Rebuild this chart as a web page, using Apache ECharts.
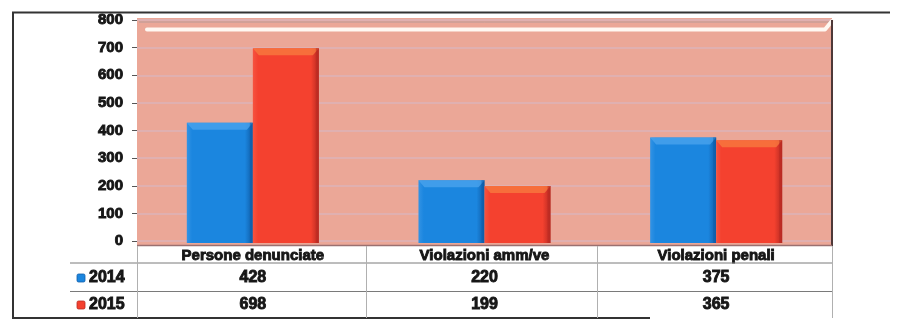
<!DOCTYPE html>
<html>
<head>
<meta charset="utf-8">
<script src="https://cdn.jsdelivr.net/npm/echarts@6/dist/echarts.min.js"></script>
<style>
  html, body { margin: 0; padding: 0; background: #ffffff; }
  #chart { width: 900px; height: 325px; }
</style>
</head>
<body>
<div id="chart"></div>
<script>
// Categories and yearly values
const categories = ['Persone denunciate', 'Violazioni amm/ve', 'Violazioni penali'];
const years = ['2014', '2015'];
const values2014 = [428, 220, 375];
const values2015 = [698, 199, 365];
const yMin = 0, yMax = 800, yStep = 100;

const FONT = '"Liberation Sans", Arial, sans-serif';
const INK = '#161616';

const palette = [
  { body: '#1b86df', light: '#3393e4', dark: '#0f5da8', bevel: '#4aa3ec' },
  { body: '#f4412f', light: '#f65340', dark: '#b82a22', bevel: '#f7793f' }
];

// Grid box (pixels)
const G = { left: 137, right: 832, top: 20, zero: 241 };

const chart = echarts.init(document.getElementById('chart'), null, { renderer: 'canvas' });

// Beveled column drawn from data through the axis scales
function makeRender(seriesIdx) {
  return function (params, api) {
    const cat = api.value(0);
    const val = api.value(1);
    const top = api.coord([cat, val]);
    const base = api.coord([cat, 0]);
    const band = api.size([1, 0])[0];
    const w = band * 0.285;
    const x0 = seriesIdx === 0 ? top[0] - w : top[0];
    const x1 = x0 + w;
    const y0 = top[1];
    const y1 = base[1] + 2;
    const c = palette[seriesIdx];
    const lip = 7, inset = 6;
    return {
      type: 'group',
      children: [
        {
          type: 'rect',
          shape: { x: x0, y: y0, width: w, height: y1 - y0 },
          style: {
            fill: new echarts.graphic.LinearGradient(0, 0, 1, 0, [
              { offset: 0, color: c.light },
              { offset: 0.08, color: c.body },
              { offset: 0.88, color: c.body },
              { offset: 1, color: c.dark }
            ])
          }
        },
        {
          type: 'polygon',
          shape: { points: [[x0, y0], [x1, y0], [x1 - inset, y0 + lip], [x0 + inset, y0 + lip]] },
          style: { fill: c.bevel, opacity: 0.8 }
        },
        {
          type: 'rect',
          shape: { x: x1 - 3, y: y0, width: 3, height: y1 - y0 },
          style: { fill: c.dark, opacity: 0.55 }
        }
      ]
    };
  };
}

const boldText = {
  fontFamily: FONT,
  fontSize: 15,
  fontWeight: 'bold',
  color: INK,
  textBorderColor: INK,
  textBorderWidth: 0.9
};

const option = {
  animation: false,
  grid: { left: G.left, right: 900 - G.right, top: G.top, bottom: 325 - G.zero, containLabel: false },
  xAxis: {
    type: 'category',
    data: categories,
    axisLine: { show: false },
    axisTick: { show: false },
    axisLabel: Object.assign({ margin: 7 }, boldText)
  },
  yAxis: {
    type: 'value',
    min: yMin,
    max: yMax,
    interval: yStep,
    axisLine: { show: false },
    axisTick: { show: true, length: 5, lineStyle: { color: '#555', width: 1 } },
    axisLabel: Object.assign({ margin: 14 }, boldText),
    splitLine: { show: true, lineStyle: { color: '#dcb3b8', width: 1.5 } }
  },
  series: [
    {
      name: years[0],
      type: 'custom',
      renderItem: makeRender(0),
      encode: { x: 0, y: 1 },
      data: values2014.map((v, i) => [i, v]),
      z: 5
    },
    {
      name: years[1],
      type: 'custom',
      renderItem: makeRender(1),
      encode: { x: 0, y: 1 },
      data: values2015.map((v, i) => [i, v]),
      z: 5
    }
  ]
};

chart.setOption(option);

// Plot wall, frame and data table
const g = [];
// pink back wall
g.push({
  type: 'rect', z: -10,
  shape: { x: G.left, y: 18, width: G.right - G.left, height: 227 },
  style: { fill: '#eba797' }
});
g.push({ type: 'line', z: 1, shape: { x1: G.left + 2, y1: 22, x2: G.right - 2, y2: 22 }, style: { stroke: '#b79a98', lineWidth: 1 } });
// white highlight along the top edge
g.push({
  type: 'polyline', z: 1,
  shape: { points: [[G.left + 10, 29.5], [G.right - 7, 29.5], [G.right, 21]] },
  style: { stroke: '#fff8f2', lineWidth: 4, lineCap: 'round', lineJoin: 'round', fill: null }
});
// right and bottom shaded edges of the wall
g.push({ type: 'line', z: 1, shape: { x1: G.right, y1: 20, x2: G.right, y2: 246 }, style: { stroke: '#4e3838', lineWidth: 2 } });
g.push({ type: 'line', z: 1, shape: { x1: G.left, y1: 245.5, x2: G.right, y2: 245.5 }, style: { stroke: '#9a7070', lineWidth: 1.5 } });

// outer frame
g.push({ type: 'polyline', z: 1, shape: { points: [[890, 12.5], [13, 12.5], [13, 318], [650, 318]] }, style: { stroke: '#333', lineWidth: 2, fill: null } });

// table grid
const rowLines = [263, 291.5];
rowLines.forEach(y => g.push({ type: 'line', z: 1, shape: { x1: 70, y1: y, x2: G.right, y2: y }, style: { stroke: '#7a7a7a', lineWidth: 1 } }));
const band = (G.right - G.left) / categories.length;
for (let k = 0; k <= categories.length; k++) {
  const x = Math.round(G.left + k * band) - (k === 1 || k === 2 ? 3 : 0) + 0.5;
  g.push({ type: 'line', z: 1, shape: { x1: x, y1: 246, x2: x, y2: 318 }, style: { stroke: '#b0b0b0', lineWidth: 1 } });
}

// table rows: legend keys and values
const rows = [
  { label: years[0], vals: values2014, y: 278, c: palette[0] },
  { label: years[1], vals: values2015, y: 305, c: palette[1] }
];
rows.forEach(r => {
  g.push({
    type: 'rect', z: 2,
    shape: { x: 77, y: r.y - 4, width: 8, height: 8, r: 1.5 },
    style: { fill: r.c.body, stroke: r.c.dark, lineWidth: 0.8 }
  });
  g.push({
    type: 'text', z: 2,
    x: 89, y: r.y,
    style: {
      text: r.label, fontFamily: FONT, fontSize: 16, fontWeight: 'bold', fill: INK,
      stroke: INK, lineWidth: 0.9, align: 'left', verticalAlign: 'middle'
    }
  });
  r.vals.forEach((v, i) => {
    const x = chart.convertToPixel({ xAxisIndex: 0 }, i);
    g.push({
      type: 'text', z: 2,
      x: x, y: r.y,
      style: {
        text: String(v), fontFamily: FONT, fontSize: 16, fontWeight: 'bold', fill: INK,
        stroke: INK, lineWidth: 0.9, align: 'center', verticalAlign: 'middle'
      }
    });
  });
});

chart.setOption({ graphic: { elements: g } });
</script>
</body>
</html>
